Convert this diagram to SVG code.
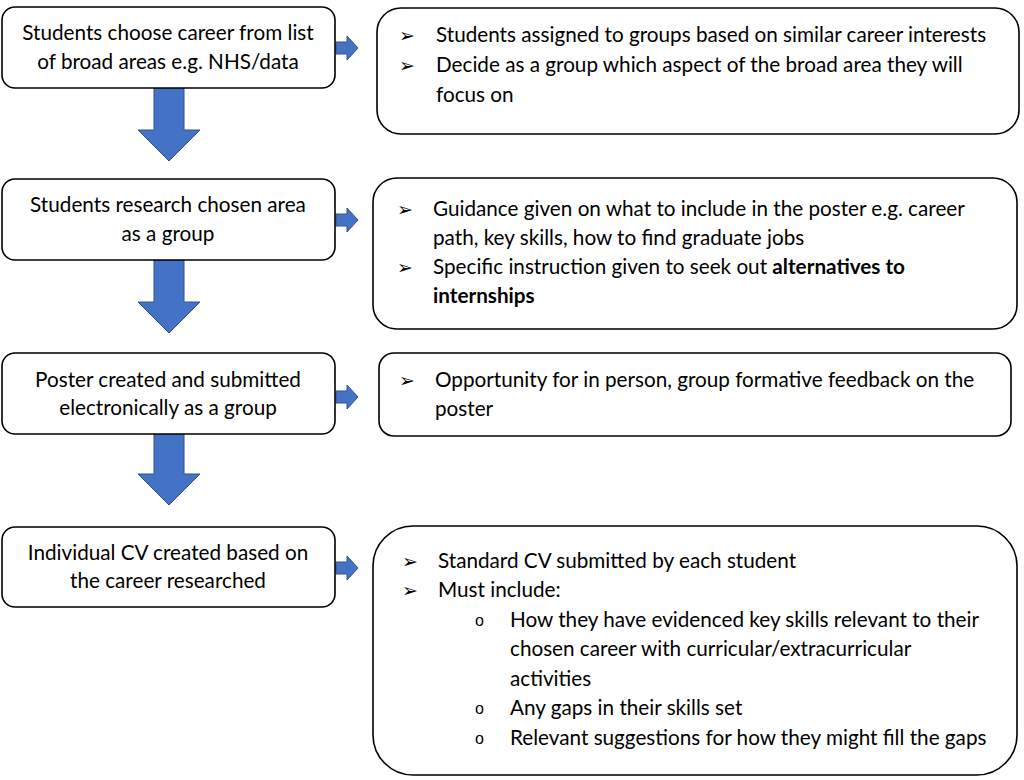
<svg xmlns="http://www.w3.org/2000/svg" width="1024" height="780" viewBox="0 0 1024 780">
<defs>
<style>
.box{fill:#fff;stroke:#000;stroke-width:1.6}
.t{font-family:Lato,"Liberation Sans",sans-serif;font-size:20.7px;fill:#000}
.c{text-anchor:middle}
.b{font-family:"DejaVu Sans",sans-serif;font-size:19px;fill:#000}
.o{font-family:"Liberation Sans",sans-serif;font-size:16px;fill:#000}
.arr{fill:#4472C4;stroke:#2F528F;stroke-width:1}
</style>
</defs>
<rect width="1024" height="780" fill="#fff"/>
<g id="connectors">
<path class="arr" d="M154,88 H184 V130 H200 L169,161 L138,130 H154 Z"/>
<path class="arr" d="M154,260 H184 V302 H200 L169,333 L138,302 H154 Z"/>
<path class="arr" d="M154,433 H184 V474 H200 L169,505 L138,474 H154 Z"/>
<path class="arr" d="M336,42 H347 V36 L358,48 L347,60 V54 H336 Z"/>
<path class="arr" d="M336,214 H347 V208 L358,220 L347,232 V226 H336 Z"/>
<path class="arr" d="M336,391 H347 V385 L358,397 L347,409 V403 H336 Z"/>
<path class="arr" d="M336,562 H347 V556 L358,568 L347,580 V574 H336 Z"/>
</g>
<g id="step1">
<rect class="box" x="2" y="7" width="333" height="81" rx="13"/>
<text class="t c" x="168" y="40">Students choose career from list</text>
<text class="t c" x="168" y="69">of broad areas e.g. NHS/data</text>
</g>
<g id="step2">
<rect class="box" x="2" y="179" width="333" height="81" rx="13"/>
<text class="t c" x="168" y="212">Students research chosen area</text>
<text class="t c" x="168" y="241">as a group</text>
</g>
<g id="step3">
<rect class="box" x="2" y="353" width="333" height="81" rx="13"/>
<text class="t c" x="168" y="387">Poster created and submitted</text>
<text class="t c" x="168" y="415">electronically as a group</text>
</g>
<g id="step4">
<rect class="box" x="2" y="527" width="333" height="80" rx="13"/>
<text class="t c" x="168" y="560">Individual CV created based on</text>
<text class="t c" x="168" y="588">the career researched</text>
</g>
<g id="detail1">
<rect class="box" x="377" y="8" width="642" height="126" rx="24"/>
<text class="b" x="399" y="42">➢</text>
<text class="t" x="436" y="42">Students assigned to groups based on similar career interests</text>
<text class="b" x="399" y="72">➢</text>
<text class="t" x="436" y="72">Decide as a group which aspect of the broad area they will</text>
<text class="t" x="436" y="102">focus on</text>
</g>
<g id="detail2">
<rect class="box" x="373" y="178" width="644" height="151" rx="24"/>
<text class="b" x="397" y="216">➢</text>
<text class="t" x="433" y="216">Guidance given on what to include in the poster e.g. career</text>
<text class="t" x="433" y="245">path, key skills, how to find graduate jobs</text>
<text class="b" x="397" y="274">➢</text>
<text class="t" x="433" y="274">Specific instruction given to seek out <tspan font-weight="bold">alternatives to</tspan></text>
<text class="t" x="433" y="303" font-weight="bold">internships</text>
</g>
<g id="detail3">
<rect class="box" x="379" y="353" width="632" height="83" rx="15"/>
<text class="b" x="399" y="387">➢</text>
<text class="t" x="435" y="387">Opportunity for in person, group formative feedback on the</text>
<text class="t" x="435" y="416">poster</text>
</g>
<g id="detail4">
<rect class="box" x="373" y="526" width="644" height="249" rx="40"/>
<text class="b" x="402" y="568">➢</text>
<text class="t" x="438" y="568">Standard CV submitted by each student</text>
<text class="b" x="402" y="597">➢</text>
<text class="t" x="438" y="597">Must include:</text>
<text class="o" x="475" y="626">o</text>
<text class="t" x="510" y="627">How they have evidenced key skills relevant to their</text>
<text class="t" x="510" y="656">chosen career with curricular/extracurricular</text>
<text class="t" x="510" y="686">activities</text>
<text class="o" x="475" y="714">o</text>
<text class="t" x="510" y="715">Any gaps in their skills set</text>
<text class="o" x="475" y="744">o</text>
<text class="t" x="510" y="745">Relevant suggestions for how they might fill the gaps</text>
</g>
</svg>
